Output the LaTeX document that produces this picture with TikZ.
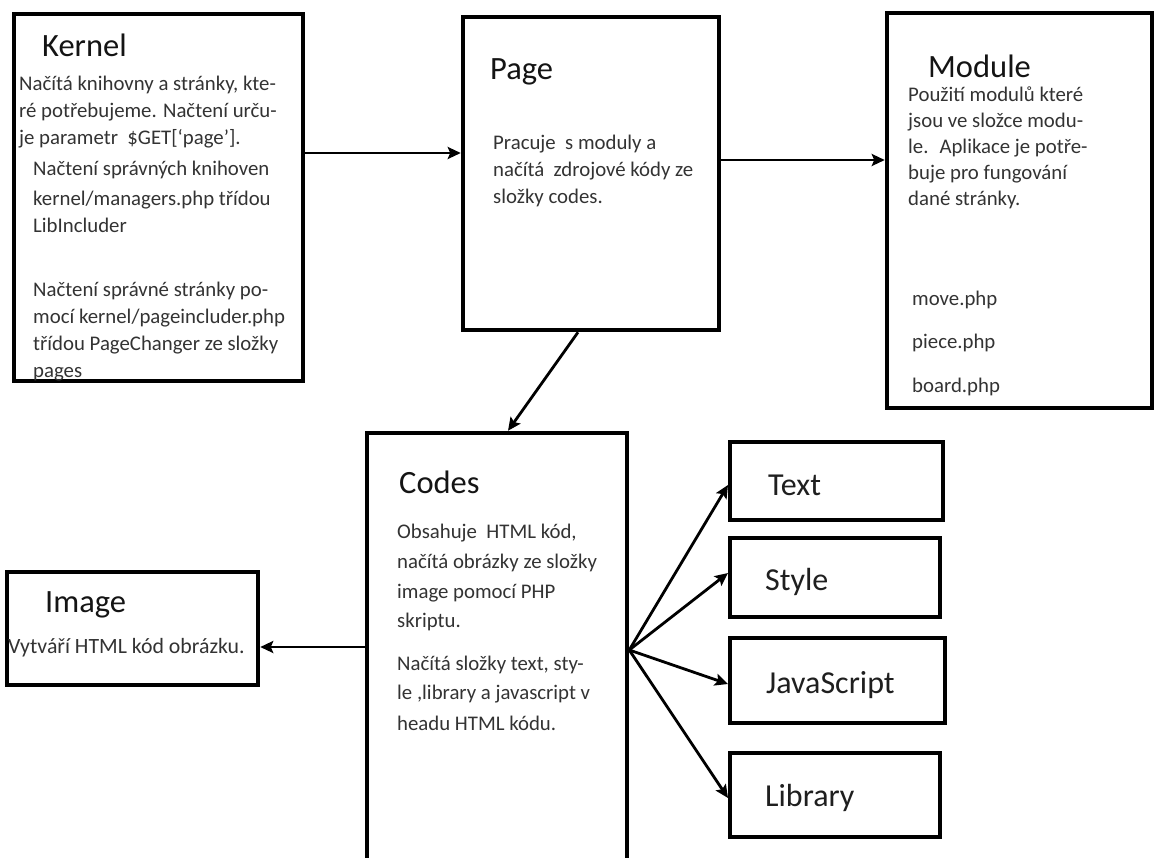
\documentclass[tikz,border=0pt]{standalone}
\usepackage{fontspec}
\setmainfont{Carlito}
\usetikzlibrary{arrows.meta}
\begin{document}
\begin{tikzpicture}[x=1pt,y=-1pt,
  box/.style={draw=black, line width=4.5pt, inner sep=0pt},
  sbox/.style={draw=black, line width=4pt, inner sep=0pt},
  body/.style={anchor=base west, inner sep=0pt, text=black!80, font=\fontsize{20.8}{25}\selectfont},
  title/.style={anchor=base west, inner sep=0pt, text=black!92, font=\fontsize{32.5}{38}\selectfont},
  label/.style={anchor=base west, inner sep=0pt, text=black!88, font=\fontsize{32}{38}\selectfont},
  arr/.style={line width=2.8pt, -{Stealth[length=13pt,width=12pt,inset=2.5pt]}}]
\useasboundingbox (0,0) rectangle (1154,857);
\fill[white] (0,0) rectangle (1154,857);
% boxes
\node[box, minimum width=289pt, minimum height=367pt] (kernel) at (158.5,197.5) {};
\node[box, minimum width=256pt, minimum height=313pt] (page) at (591,173.5) {};
\node[box, minimum width=265pt, minimum height=395pt] (module) at (1019.5,210.5) {};
\node[box, minimum width=260pt, minimum height=450pt] (codes) at (497,658) {};
\node[box, minimum width=251pt, minimum height=113pt] (image) at (132.5,628.5) {};
\node[sbox, minimum width=213pt, minimum height=78pt] (text) at (836.5,481) {};
\node[sbox, minimum width=210pt, minimum height=79pt] (style) at (835,577.5) {};
\node[sbox, minimum width=215pt, minimum height=85pt] (js) at (837.5,680.5) {};
\node[sbox, minimum width=210pt, minimum height=84pt] (lib) at (835,795) {};
% kernel text
\node[title] (kt) at (42,56) {Kernel};
\node[body] (k1) at (19,90) {Načítá knihovny a stránky, kte-};
\node[body] (k2) at (19,117) {ré potřebujeme. Načtení urču-};
\node[body] (k3) at (19,144) {je parametr \ \$GET[‘page’].};
\node[body] (k4) at (33,175) {Načtení správných knihoven};
\node[body] (k5) at (33,205) {kernel/managers.php třídou};
\node[body] (k6) at (33,232) {LibIncluder};
\node[body] (k7) at (33,296) {Načtení správné stránky po-};
\node[body] (k8) at (33,323) {mocí kernel/pageincluder.php};
\node[body] (k9) at (33,350) {třídou PageChanger ze složky};
\node[body] (k10) at (33,377) {pages};
% page text
\node[title] (pt) at (490,79) {Page};
\node[body] (p1) at (493,149) {Pracuje \ s moduly a};
\node[body] (p2) at (493,176) {načítá \ zdrojové kódy ze};
\node[body] (p3) at (493,203) {složky codes.};
% module text
\node[title] (mt) at (928,77) {Module};
\node[body] (m1) at (908,101) {Použití modulů které};
\node[body] (m2) at (908,127) {jsou ve složce modu-};
\node[body] (m3) at (908,153) {le. \ Aplikace je potře-};
\node[body] (m4) at (908,179) {buje pro fungování};
\node[body] (m5) at (908,205) {dané stránky.};
\node[body] (m6) at (912,305) {move.php};
\node[body] (m7) at (912,348) {piece.php};
\node[body] (m8) at (912,392) {board.php};
% codes text
\node[title] (ct) at (399,493) {Codes};
\node[body] (c1) at (397,538) {Obsahuje \ HTML kód,};
\node[body] (c2) at (397,568) {načítá obrázky ze složky};
\node[body] (c3) at (397,598) {image pomocí PHP};
\node[body] (c4) at (397,627) {skriptu.};
\node[body] (c5) at (397,670) {Načítá složky text, sty-};
\node[body] (c6) at (397,699) {le ,library a javascript v};
\node[body] (c7) at (397,730) {headu HTML kódu.};
% image text
\node[title] (it) at (45,612) {Image};
\node[body, font=\fontsize{21.8}{26}\selectfont] (i1) at (8,653) {Vytváří HTML kód obrázku.};
% right labels
\node[label] (tl) at (768,495) {Text};
\node[label] (sl) at (765,590) {Style};
\node[label] (jl) at (766,693) {JavaScript};
\node[label] (ll) at (765,806) {Library};
% connectors
\draw[arr] (kernel.east |- 0,153) -- (page.west |- 0,153);
\draw[arr] (page.east |- 0,160) -- (module.west |- 0,160);
\draw[arr] (578,0 |- page.south) -- (508,0 |- codes.north);
\draw[arr] (codes.west |- 0,647) -- (image.east |- 0,647);
\coordinate (fan) at (codes.east |- 0,650);
\draw[arr] (fan) -- (text.west |- 0,485);
\draw[arr] (fan) -- (style.west |- 0,573);
\draw[arr] (fan) -- (js.west |- 0,684);
\draw[arr] (fan) -- (lib.west |- 0,798);
\end{tikzpicture}
\end{document}
